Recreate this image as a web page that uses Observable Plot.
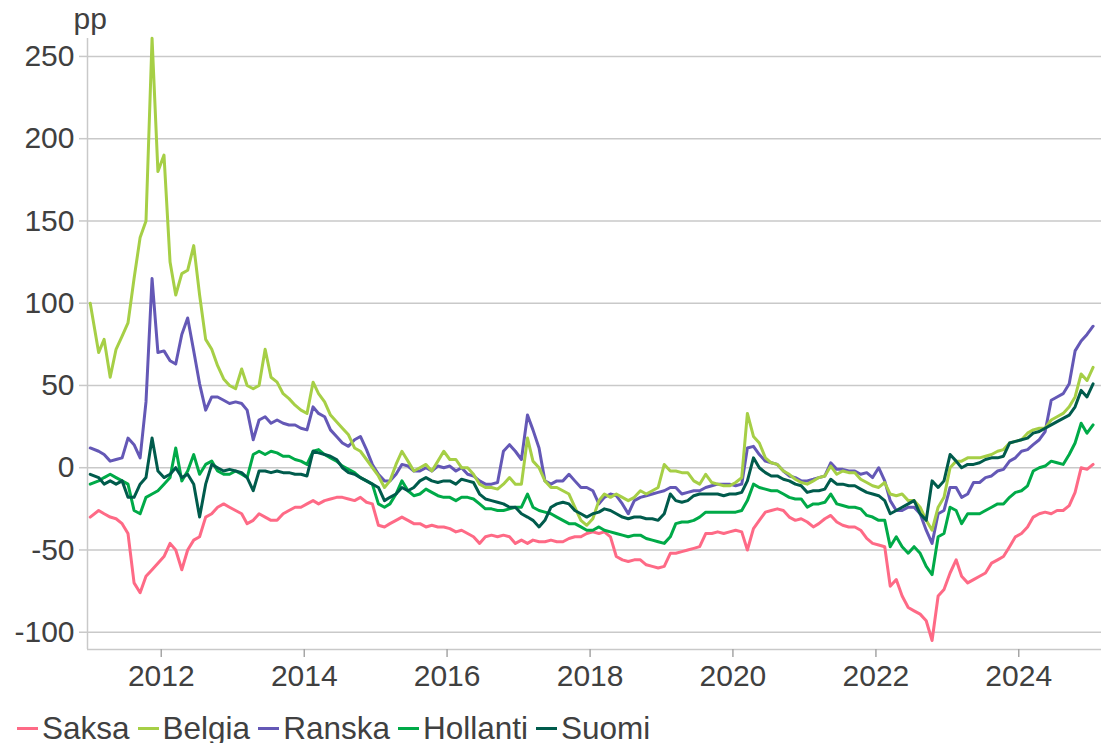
<!DOCTYPE html>
<html><head><meta charset="utf-8">
<script src="https://cdn.jsdelivr.net/npm/d3@7"></script>
<script src="https://cdn.jsdelivr.net/npm/@observablehq/plot@0.6"></script>
<style>
body{margin:0;background:#fff;font-family:"Liberation Sans",Arial,sans-serif;color:#404040;}
#chart svg{display:block;}
#legend{display:flex;align-items:center;height:30px;margin-top:14px;padding-left:17px;font-size:31.5px;line-height:30px;white-space:nowrap;}
.item{display:flex;align-items:center;margin-right:8px;}
.sw{width:21px;height:3px;margin-right:4px;}
</style></head><body><div id="chart"></div><div id="legend"></div>
<script>
// Monthly values, Jan 2011 ... Jan 2025 (pp)
const saksa = [
-30,-26,-28,-30,-31,-34,-40,-70,-76,-66,-62,-58,
-54,-46,-50,-62,-50,-44,-42,-30,-28,-24,-22,-24,
-26,-28,-34,-32,-28,-30,-32,-32,-28,-26,-24,-24,
-22,-20,-22,-20,-19,-18,-18,-19,-20,-18,-21,-22,
-35,-36,-34,-32,-30,-32,-34,-34,-36,-35,-36,-36,
-37,-39,-38,-40,-42,-46,-42,-41,-42,-41,-42,-46,
-44,-46,-44,-45,-45,-44,-45,-45,-43,-42,-42,-40,
-39,-40,-39,-42,-54,-56,-57,-56,-56,-59,-60,-61,
-60,-52,-52,-51,-50,-49,-48,-40,-40,-39,-40,-39,
-38,-39,-50,-37,-32,-27,-26,-25,-26,-30,-32,-31,
-33,-36,-34,-31,-29,-33,-35,-36,-36,-38,-43,-46,
-47,-48,-72,-68,-78,-85,-87,-89,-93,-105,-78,-74,
-64,-56,-66,-70,-68,-66,-64,-58,-56,-54,-48,-42,
-40,-36,-30,-28,-27,-28,-26,-26,-23,-15,0,-1,
2];
const belgia = [
100,70,78,55,72,80,88,115,140,150,261,180,
190,125,105,118,120,135,105,78,72,62,54,50,
48,60,50,48,50,72,55,52,45,42,38,35,
33,52,45,40,32,28,24,20,12,10,5,0,
-5,-12,-8,2,10,4,-2,0,2,-2,4,10,
5,5,0,0,-4,-10,-12,-12,-13,-10,-6,-10,
-10,18,4,0,-8,-12,-12,-14,-16,-24,-32,-35,
-31,-20,-16,-18,-16,-18,-20,-18,-14,-16,-14,-12,
2,-2,-2,-3,-3,-8,-10,-4,-9,-10,-11,-11,
-9,-6,33,19,15,6,3,2,-2,-4,-7,-9,
-10,-8,-6,-5,1,-4,-2,-3,-3,-7,-9,-11,
-12,-9,-16,-17,-16,-20,-20,-24,-32,-38,-24,-18,
0,4,4,6,6,6,7,8,10,11,15,16,
17,21,23,24,24,29,31,33,37,43,57,53,
61];
const ranska = [
12,10,8,4,5,6,18,14,6,40,115,70,
71,65,63,81,91,71,51,35,43,43,41,39,
40,39,35,17,29,31,27,29,27,26,26,24,
23,37,33,31,23,19,15,13,17,19,11,2,
-4,-8,-8,-4,2,1,-2,-2,0,-2,1,0,
1,-2,0,-4,-5,-8,-10,-10,-9,10,14,10,
5,32,23,12,-8,-10,-8,-8,-4,-8,-12,-12,
-14,-22,-18,-16,-17,-22,-28,-20,-18,-17,-16,-15,
-14,-12,-12,-16,-15,-14,-14,-12,-11,-10,-10,-10,
-11,-10,12,13,8,4,3,2,-2,-5,-6,-8,
-8,-7,-6,-5,3,-1,-1,-2,-2,-4,-3,-6,
0,-8,-20,-26,-26,-24,-24,-28,-38,-46,-28,-26,
-12,-12,-18,-16,-9,-9,-6,-5,-2,-1,4,6,
10,11,14,17,22,41,43,45,51,71,77,81,
86];
const hollanti = [
-10,-8,-6,-4,-6,-8,-10,-26,-28,-18,-16,-14,
-10,-6,12,-8,-2,8,-4,2,4,-2,-4,-4,
-2,-4,-6,8,10,8,10,9,7,7,5,4,
2,10,11,8,6,4,1,-1,-3,-6,-8,-10,
-22,-24,-22,-16,-8,-14,-17,-16,-13,-15,-17,-18,
-18,-20,-18,-18,-19,-22,-25,-25,-26,-26,-25,-24,
-24,-16,-24,-26,-27,-28,-30,-32,-34,-34,-36,-38,
-38,-36,-38,-39,-40,-41,-42,-41,-41,-43,-44,-45,
-46,-42,-34,-33,-33,-32,-30,-27,-27,-27,-27,-27,
-27,-26,-20,-10,-12,-13,-14,-14,-16,-18,-19,-19,
-24,-22,-22,-21,-16,-22,-23,-24,-24,-25,-29,-30,
-32,-32,-48,-42,-48,-52,-48,-52,-60,-65,-42,-40,
-24,-26,-34,-28,-28,-28,-26,-24,-22,-22,-18,-15,
-14,-11,-2,0,1,4,3,2,8,15,27,21,
26];
const suomi = [
-4,-6,-10,-8,-10,-8,-18,-18,-10,-6,18,-2,
-6,-4,0,-6,-4,-10,-30,-10,2,0,-2,-1,
-2,-3,-6,-14,-2,-2,-3,-2,-3,-3,-4,-4,
-5,10,9,8,7,5,0,-3,-4,-6,-8,-10,
-12,-20,-18,-16,-12,-14,-12,-8,-6,-8,-9,-8,
-8,-10,-7,-8,-9,-16,-19,-20,-21,-22,-24,-24,
-28,-30,-32,-36,-32,-24,-22,-21,-22,-26,-28,-30,
-28,-27,-25,-26,-28,-30,-31,-30,-30,-31,-31,-32,
-28,-16,-20,-21,-20,-17,-16,-16,-16,-16,-17,-16,
-16,-15,-8,6,0,-3,-5,-5,-7,-8,-10,-11,
-15,-14,-14,-13,-7,-10,-10,-11,-11,-13,-15,-16,
-17,-20,-28,-26,-24,-22,-20,-28,-32,-8,-12,-8,
8,4,0,2,2,3,5,6,6,7,15,16,
17,18,21,22,24,26,28,30,32,37,47,43,
51];

const seriesNames = ["Saksa", "Belgia", "Ranska", "Hollanti", "Suomi"];
const seriesColors = ["#fe6a86", "#a6cf46", "#6458b6", "#00aa48", "#005b4c"];
const drawOrder = ["Saksa", "Ranska", "Belgia", "Hollanti", "Suomi"];
const yTicks = [-100, -50, 0, 50, 100, 150, 200, 250];
const xTickYears = [2012, 2014, 2016, 2018, 2020, 2022, 2024];
const yLabel = "pp";

const valuesByName = {Saksa: saksa, Belgia: belgia, Ranska: ranska, Hollanti: hollanti, Suomi: suomi};
const monthDate = i => i === 0 ? new Date(Date.UTC(2011, 0, 3)) : new Date(Date.UTC(2011, i, 15));
const rows = [];
for (const name of drawOrder) {
  valuesByName[name].forEach((v, i) => rows.push({date: monthDate(i), value: v, series: name}));
}

const xDomain = [new Date(Date.UTC(2010, 11, 20)), new Date(Date.UTC(2025, 1, 27))];
const yDomain = [-110.5, 260.9];

const chart = Plot.plot({
  width: 1101,
  height: 699,
  marginTop: 38,
  marginBottom: 50,
  marginLeft: 87,
  marginRight: 0,
  style: {fontFamily: "'Liberation Sans', Arial, sans-serif", fontSize: "30px", color: "#404040", background: "#fff"},
  x: {type: "utc", domain: xDomain},
  y: {domain: yDomain},
  color: {domain: seriesNames, range: seriesColors},
  marks: [
    Plot.gridY(yTicks, {stroke: "#c9c9c9", strokeOpacity: 1, strokeWidth: 1.5}),
    Plot.ruleX([xDomain[0]], {stroke: "#c9c9c9", strokeWidth: 1.5}),
    Plot.ruleY([yDomain[0]], {stroke: "#c9c9c9", strokeWidth: 1.5}),
    Plot.axisY({ticks: yTicks, tickFormat: d => String(d), tickSize: 8, tickPadding: 5, stroke: "#c9c9c9", strokeWidth: 1.5, fill: "#404040", fontSize: 30, label: null}),
    Plot.axisX({ticks: xTickYears.map(y => new Date(Date.UTC(y, 0, 1))), tickFormat: d3.utcFormat("%Y"), tickSize: 8, tickPadding: 7, stroke: "#a6a6a6", strokeWidth: 1.5, fill: "#404040", fontSize: 30, label: null}),
    Plot.line(rows, {x: "date", y: "value", z: "series", stroke: "series", strokeWidth: 3}),
    Plot.text([yLabel], {frameAnchor: "top-left", text: d => d, textAnchor: "start", lineAnchor: "middle", dx: -14, dy: -19.6, fontSize: 30, fill: "#404040"})
  ]
});
document.getElementById("chart").appendChild(chart);

const legend = document.getElementById("legend");
seriesNames.forEach((name, i) => {
  const item = document.createElement("div");
  item.className = "item";
  const sw = document.createElement("span");
  sw.className = "sw";
  sw.style.background = seriesColors[i];
  const label = document.createElement("span");
  label.textContent = name;
  item.appendChild(sw);
  item.appendChild(label);
  legend.appendChild(item);
});
</script>
</body></html>
